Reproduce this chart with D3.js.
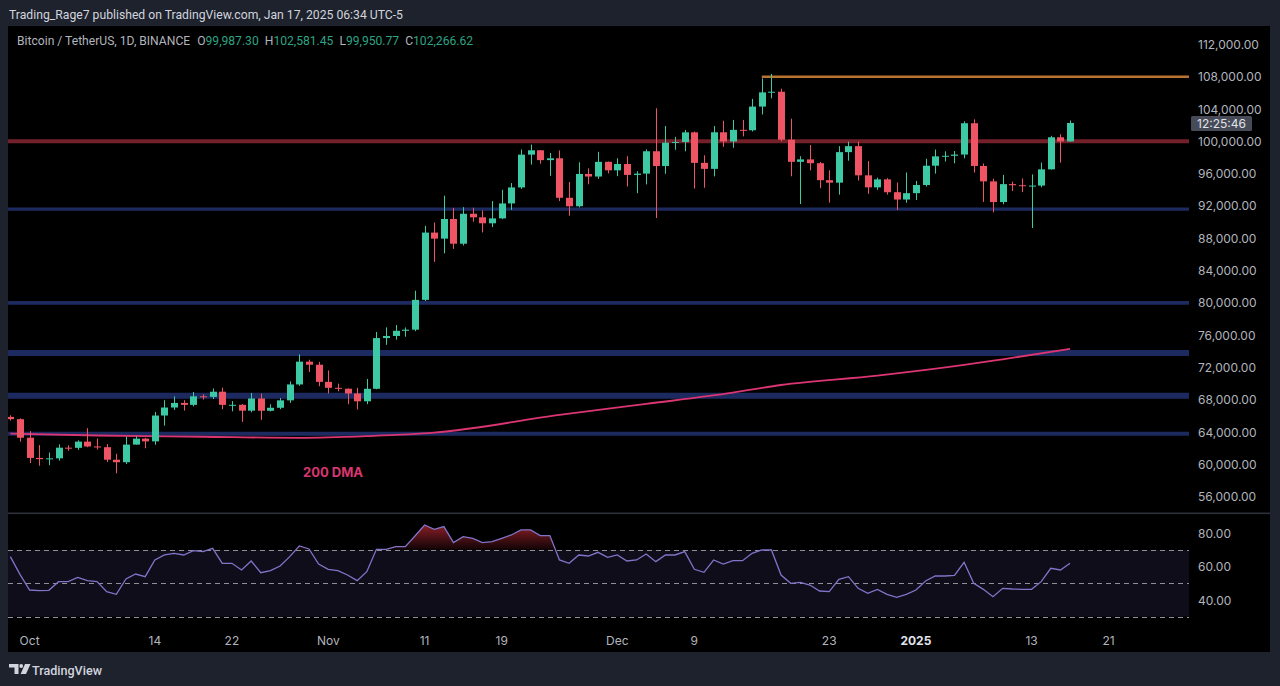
<!DOCTYPE html>
<html>
<head>
<meta charset="utf-8">
<script src="https://cdn.jsdelivr.net/npm/d3@7"></script>
<style>
  html, body { margin: 0; padding: 0; background: #1e222d; }
  svg { display: block; font-family: Inter, "Noto Sans", sans-serif; }
</style>
</head>
<body>
<svg id="chart" width="1280" height="686"></svg>
<script>
"use strict";

// ---- data (BTCUSDT daily, Sep 29 2024 .. Jan 17 2025) ----
var firstDay = "2024-09-29";

var opens = [
  65880, 65600,
  63300, 60800, 60650, 60750, 62070, 62050, 62820, 62220, 62130, 60580,
  60270, 62450, 63190, 62850, 66050, 67040, 67610, 67370, 68430, 68360,
  69000, 67370, 67380, 66650, 68160, 66640, 67010, 67930, 69900, 72720, 72340,
  70220, 69480, 69370, 68780, 67810, 69360, 75640, 75900, 76540, 76680,
  80370, 88700, 87950, 90380, 87320, 91030, 90590, 89850, 90460, 92310,
  94290, 98350, 98890, 97670, 97900, 93010, 91960, 95960, 95640, 97460,
  96410, 97190, 95840, 96000, 98770, 96940, 99830, 99920, 101110, 97330,
  96590, 101120, 99980, 101420, 101370, 104300, 106060, 106140, 100200, 97460,
  97760, 97290, 95190, 94880, 98660, 99400, 95790, 94300, 95290, 93700, 92790,
  93580, 94590, 96980, 98140, 98210, 98360, 102240, 96950, 95040, 92480,
  94700, 94560, 94500, 94520, 96530, 100500, 99987
];
var highs = [
  66080, 65700,
  64130, 62390, 61470, 62480, 62370, 62980, 64480, 63200, 62520, 61320,
  63420, 63480, 63290, 66500, 67950, 68420, 67940, 68970, 68690, 69400,
  69500, 67840, 67470, 68850, 68770, 67450, 68220, 70270, 73620, 72960, 72700,
  71630, 70000, 69400, 69480, 70580, 76400, 76960, 77250, 76950, 81500,
  89530, 89950, 93265, 91760, 91850, 91780, 91450, 92600, 94000, 94830,
  98980, 99590, 98920, 98560, 98870, 94970, 97400, 96650, 98700, 97500,
  97900, 98150, 96300, 99000, 104090, 101900, 100550, 101400, 101210, 98270,
  101890, 102540, 102650, 102650, 105250, 107790, 108350, 106520, 102800, 98150,
  99540, 97450, 96420, 99400, 99960, 99960, 97550, 95500, 95440, 94900, 96150,
  95100, 97840, 98980, 98770, 98800, 102480, 102720, 97250, 95380, 95840,
  95000, 95400, 95900, 97370, 100680, 100870, 102581
];
var lows = [
  65430, 62820,
  60160, 59830, 59900, 60460, 61680, 61800, 62130, 61840, 60300, 58900,
  60050, 62450, 62000, 62430, 64800, 66750, 66660, 67180, 68030, 68100,
  66840, 66570, 65260, 66450, 65520, 66560, 66830, 67620, 69730, 71440, 69680,
  68780, 69050, 67450, 66800, 67460, 69300, 74800, 75440, 75800, 76490,
  80220, 85070, 86130, 86670, 87100, 90060, 88720, 89380, 90370, 91500,
  94100, 97120, 97230, 95730, 92600, 90790, 91820, 94680, 95360, 96030,
  95690, 94400, 93580, 94660, 90500, 95980, 98950, 98770, 94150, 94250,
  95660, 99310, 99200, 100610, 101220, 103330, 105320, 100000, 95670, 92230,
  96400, 94200, 92400, 93400, 97600, 95140, 93500, 94000, 93400, 91500, 92390,
  92740, 94400, 96000, 97500, 97280, 97900, 96130, 92500, 91200, 92200,
  93840, 93710, 89260, 94300, 96500, 97360, 99951
];
var closes = [
  65600, 63300,
  60800, 60650, 60750, 62070, 62050, 62820, 62220, 62130, 60580, 60270,
  62450, 63190, 62850, 66050, 67040, 67610, 67370, 68430, 68360, 69000,
  67370, 67380, 66650, 68160, 66640, 67010, 67930, 69900, 72720, 72340, 70220,
  69480, 69370, 68780, 67810, 69360, 75640, 75900, 76540, 76680, 80370,
  88700, 87950, 90380, 87320, 91030, 90590, 89850, 90460, 92310, 94290,
  98350, 98890, 97670, 97900, 93010, 91960, 95960, 95640, 97460, 96410,
  97190, 95840, 96000, 98770, 96940, 99830, 99920, 101110, 97330, 96590,
  101120, 99980, 101420, 101370, 104300, 106060, 106140, 100200, 97460, 97760,
  97290, 95190, 94880, 98660, 99400, 95790, 94300, 95290, 93700, 92790, 93580,
  94590, 96980, 98140, 98210, 98360, 102240, 96950, 95040, 92480, 94700,
  94560, 94500, 94520, 96530, 100500, 99987, 102267
];

var rsiValues = [
  66, 55.4,
  46, 45.6, 45.8, 51, 51, 53.6, 51.6, 51, 45, 43.4,
  52.6, 55.6, 54, 64, 67, 68, 67, 69.6, 69, 71,
  62, 62, 58, 63.4, 56.4, 57.6, 60.4, 66, 72.4, 70.6, 61.6,
  58.4, 57.6, 55, 51.6, 57, 70.4, 70.4, 72, 72, 78.4,
  85, 82.4, 84, 74.4, 78, 77, 74.4, 75, 77, 79,
  82, 82, 78.6, 78.6, 64, 62, 67, 66.4, 68.6, 65.6,
  67, 63.4, 64, 67.6, 63, 67, 67, 69, 58.4, 56.6,
  64, 61.6, 63.6, 63.6, 68, 70, 70, 55, 50, 50.6,
  49, 45.4, 45, 52.4, 54, 47, 44, 46.4, 43.4, 41.6, 43.4,
  46, 51.4, 54.4, 54.4, 54.8, 62.6, 50, 46.4, 42, 47,
  46.6, 46.4, 46.4, 51, 59, 58, 62
];

// 200 day moving average, read at a few dates
var maDates = ["2024-09-29", "2024-10-08", "2024-10-19", "2024-10-29", "2024-11-05", "2024-11-12",
  "2024-11-25", "2024-12-04", "2024-12-13", "2024-12-18", "2024-12-28", "2025-01-06",
  "2025-01-10", "2025-01-17"];
var maValues = [63820, 63580, 63420, 63290, 63500, 63930, 66120, 67480, 68880, 69830, 70990, 72310, 73010, 74290];

// drawn horizontal levels
var supportLevels = [91600, 80000, 73800, 68500, 63800];
var pivotLevel = 100000;
var topLevel = 108000;
var topLevelStart = "2024-12-16";

var priceTicks = [56000, 60000, 64000, 68000, 72000, 76000, 80000, 84000, 88000, 92000, 96000, 100000, 104000, 108000, 112000];
var rsiTicks = [40, 60, 80];
var rsiGuides = [70, 50, 30];
var timeTickDates = ["2024-10-01", "2024-10-14", "2024-10-22", "2024-11-01", "2024-11-11", "2024-11-19",
  "2024-12-01", "2024-12-09", "2024-12-23", "2025-01-01", "2025-01-13", "2025-01-21"];
var timeTickLabels = ["Oct", "14", "22", "Nov", "11", "19", "Dec", "9", "23", "2025", "13", "21"];

var legendTitle = "Bitcoin / TetherUS, 1D, BINANCE";
var legendKeys = ["O", "H", "L", "C"];
var legendValues = ["99,987.30", "102,581.45", "99,950.77", "102,266.62"];
var publishLine = "Trading_Rage7 published on TradingView.com, Jan 17, 2025 06:34 UTC-5";
var countdownText = "12:25:46";

// ---- layout & style ----
var plot = {left: 8, right: 1189, top: 26, bottom: 513};
var rsiPane = {top: 514, bottom: 626};
var frame = {left: 8, right: 1270, top: 26, bottom: 652};

var upColor = "#3cc9a4",
    downColor = "#ef5464",
    gridText = "#b2b5be",
    supportColor = "#1c2a5f",
    supportWidths = [3.2, 3.6, 6, 6, 4],
    pivotColor = "#74202a",
    topColor = "#b8732f",
    maColor = "#dc3573",
    rsiColor = "#8174c9";

var parseDay = d3.utcParse("%Y-%m-%d");
var startDay = parseDay(firstDay);
var days = opens.map(function(v, i){ return d3.utcDay.offset(startDay, i); });

var candles = days.map(function(d, i){
  return {date: d, o: opens[i], h: highs[i], l: lows[i], c: closes[i], rsi: rsiValues[i]};
});

// x: 9.634 px per day, Oct 1 centered at 29.6
var dayPx = 9.634, oct1 = parseDay("2024-10-01"), oct1X = 29.6;
var x = d3.scaleUtc()
  .domain([new Date(+oct1 - (oct1X - plot.left) / dayPx * 864e5), new Date(+oct1 + (plot.right - oct1X) / dayPx * 864e5)])
  .range([plot.left, plot.right]);

var y = d3.scaleLinear().domain([56000, 108000]).range([496.7, 76.7]);
var ry = d3.scaleLinear().domain([30, 80]).range([616.7, 533.3]);

// shrink/grow a text node so its glyphs span the width seen in the picture
function fitWidth(sel, width){
  var node = sel.node();
  var size = parseFloat(sel.attr("font-size"));
  var w = node.getComputedTextLength();
  if(w > 0){ sel.attr("font-size", (size * width / w).toFixed(2) + "px"); }
}

var svg = d3.select("#chart");
var defs = svg.append("defs");

defs.append("clipPath").attr("id", "mainClip")
  .append("rect")
  .attr("x", plot.left).attr("y", plot.top)
  .attr("width", plot.right - plot.left).attr("height", plot.bottom - plot.top);

defs.append("clipPath").attr("id", "obClip")
  .append("rect")
  .attr("x", plot.left).attr("y", rsiPane.top)
  .attr("width", plot.right - plot.left).attr("height", ry(70) - rsiPane.top);

var grad = defs.append("linearGradient")
  .attr("id", "obGrad")
  .attr("gradientUnits", "userSpaceOnUse")
  .attr("x1", 0).attr("x2", 0)
  .attr("y1", ry(86)).attr("y2", ry(70));
grad.append("stop").attr("offset", 0).attr("stop-color", "#f23645").attr("stop-opacity", 0.6);
grad.append("stop").attr("offset", 1).attr("stop-color", "#f23645").attr("stop-opacity", 0.06);

// frame + black chart area
svg.append("rect").attr("width", 1280).attr("height", 686).attr("fill", "#1e222d");
svg.append("rect")
  .attr("x", frame.left).attr("y", frame.top)
  .attr("width", frame.right - frame.left).attr("height", frame.bottom - frame.top)
  .attr("fill", "#000");

// header
var publish = svg.append("text")
  .attr("x", 9).attr("y", 18.5)
  .attr("fill", "#d1d4dc")
  .attr("font-family", "Roboto, sans-serif")
  .attr("font-size", "12.5px")
  .text(publishLine);
fitWidth(publish, 394);

var legend = svg.append("text")
  .attr("x", 17).attr("y", 45)
  .attr("font-family", "Roboto, sans-serif")
  .attr("font-size", "12.5px")
  .attr("fill", gridText);
legend.append("tspan").text(legendTitle);
legendKeys.forEach(function(k, i){
  legend.append("tspan").attr("dx", i == 0 ? 7 : 6).attr("fill", gridText).text(k);
  legend.append("tspan").attr("fill", "#2fa383").text(legendValues[i]);
});
fitWidth(legend, 431);

// main pane
var main = svg.append("g").attr("clip-path", "url(#mainClip)");

main.selectAll(".support")
  .data(supportLevels)
  .enter().append("line")
  .attr("class", "support")
  .attr("x1", plot.left).attr("x2", plot.right)
  .attr("y1", function(p){ return y(p); })
  .attr("y2", function(p){ return y(p); })
  .attr("stroke", supportColor)
  .attr("stroke-width", function(p, i){ return supportWidths[i]; });

main.append("line")
  .attr("x1", plot.left).attr("x2", plot.right)
  .attr("y1", y(pivotLevel)).attr("y2", y(pivotLevel))
  .attr("stroke", pivotColor)
  .attr("stroke-width", 4);

main.append("line")
  .attr("x1", x(parseDay(topLevelStart))).attr("x2", plot.right)
  .attr("y1", y(topLevel)).attr("y2", y(topLevel))
  .attr("stroke", topColor)
  .attr("stroke-width", 2.6);

var maLine = d3.line()
  .x(function(d){ return x(d.date); })
  .y(function(d){ return y(d.v); })
  .curve(d3.curveMonotoneX);

main.append("path")
  .datum(maDates.map(function(d, i){ return {date: parseDay(d), v: maValues[i]}; }))
  .attr("d", maLine)
  .attr("fill", "none")
  .attr("stroke", maColor)
  .attr("stroke-width", 1.8);

var candle_g = main.selectAll(".candle")
  .data(candles)
  .enter().append("g")
  .attr("class", "candle");

candle_g.append("line")
  .attr("x1", function(d){ return Math.round(x(d.date)) + 0.5; })
  .attr("x2", function(d){ return Math.round(x(d.date)) + 0.5; })
  .attr("y1", function(d){ return y(d.h); })
  .attr("y2", function(d){ return y(d.l); })
  .attr("stroke", function(d){ return d.c >= d.o ? upColor : downColor; })
  .attr("stroke-width", 1);

candle_g.append("rect")
  .attr("x", function(d){ return Math.round(x(d.date)) - 3; })
  .attr("width", 7)
  .attr("y", function(d){ return y(Math.max(d.o, d.c)); })
  .attr("height", function(d){ return Math.max(1, Math.abs(y(d.o) - y(d.c))); })
  .attr("fill", function(d){ return d.c >= d.o ? upColor : downColor; });

svg.append("text")
  .attr("x", 303).attr("y", 477)
  .attr("fill", "#d8366f")
  .attr("font-size", "13px")
  .attr("font-weight", "bold")
  .text("200 DMA");

// price axis
svg.append("g").selectAll("text")
  .data(priceTicks)
  .enter().append("text")
  .attr("x", 1198)
  .attr("y", function(p){ return y(p) + 4.5; })
  .attr("fill", gridText)
  .attr("font-size", "12px")
  .text(d3.format(",.2f"));

var cd = svg.append("g");
cd.append("rect")
  .attr("x", 1191).attr("y", 116)
  .attr("width", 61).attr("height", 15)
  .attr("rx", 1.5)
  .attr("fill", "#474b57");
cd.append("text")
  .attr("x", 1221.5).attr("y", 127.5)
  .attr("text-anchor", "middle")
  .attr("fill", "#e0e3eb")
  .attr("font-size", "12px")
  .text(countdownText);

// pane separator
svg.append("rect")
  .attr("x", frame.left).attr("y", 512.5)
  .attr("width", frame.right - frame.left).attr("height", 1.6)
  .attr("fill", "#2e3039");

// RSI pane
var rsi = svg.append("g");

rsi.append("rect")
  .attr("x", plot.left).attr("y", ry(70))
  .attr("width", plot.right - plot.left).attr("height", ry(30) - ry(70))
  .attr("fill", "#0f0d1a");

rsi.append("path")
  .datum(candles)
  .attr("clip-path", "url(#obClip)")
  .attr("d", d3.area()
    .x(function(d){ return x(d.date); })
    .y0(ry(70))
    .y1(function(d){ return ry(d.rsi); }))
  .attr("fill", "url(#obGrad)");

rsi.selectAll(".guide")
  .data(rsiGuides)
  .enter().append("line")
  .attr("class", "guide")
  .attr("x1", plot.left).attr("x2", plot.right)
  .attr("y1", function(v){ return Math.round(ry(v)) + 0.5; })
  .attr("y2", function(v){ return Math.round(ry(v)) + 0.5; })
  .attr("stroke", "#8d9099")
  .attr("stroke-width", 1)
  .attr("stroke-dasharray", "5,4");

rsi.append("path")
  .datum(candles)
  .attr("d", d3.line()
    .x(function(d){ return x(d.date); })
    .y(function(d){ return ry(d.rsi); }))
  .attr("fill", "none")
  .attr("stroke", rsiColor)
  .attr("stroke-width", 1.3);

rsi.selectAll(".rsiTick")
  .data(rsiTicks)
  .enter().append("text")
  .attr("class", "rsiTick")
  .attr("x", 1198)
  .attr("y", function(v){ return ry(v) + 4.5; })
  .attr("fill", gridText)
  .attr("font-size", "12px")
  .text(d3.format(".2f"));

// time axis
svg.append("g").selectAll("text")
  .data(timeTickDates)
  .enter().append("text")
  .attr("x", function(d){ return x(parseDay(d)); })
  .attr("y", 645)
  .attr("text-anchor", "middle")
  .attr("font-size", "12px")
  .attr("fill", function(d, i){ return timeTickLabels[i] == "2025" ? "#e0e3eb" : gridText; })
  .attr("font-weight", function(d, i){ return timeTickLabels[i] == "2025" ? "bold" : "normal"; })
  .text(function(d, i){ return timeTickLabels[i]; });

// footer logo
var logo = svg.append("g").attr("fill", "#d1d4dc");
logo.append("path").attr("d", "M9,664 H18.5 V674 H14.5 V667.6 H9 Z");
logo.append("circle").attr("cx", 21.2).attr("cy", 666).attr("r", 1.9);
logo.append("path").attr("d", "M25,664 H30.5 L26,674 H20.6 Z");
var logoText = logo.append("text")
  .attr("x", 32).attr("y", 674.5)
  .attr("font-family", "Roboto, sans-serif")
  .attr("font-size", "13.5px")
  .attr("font-weight", 500)
  .text("TradingView");
fitWidth(logoText, 70);
</script>
</body>
</html>
